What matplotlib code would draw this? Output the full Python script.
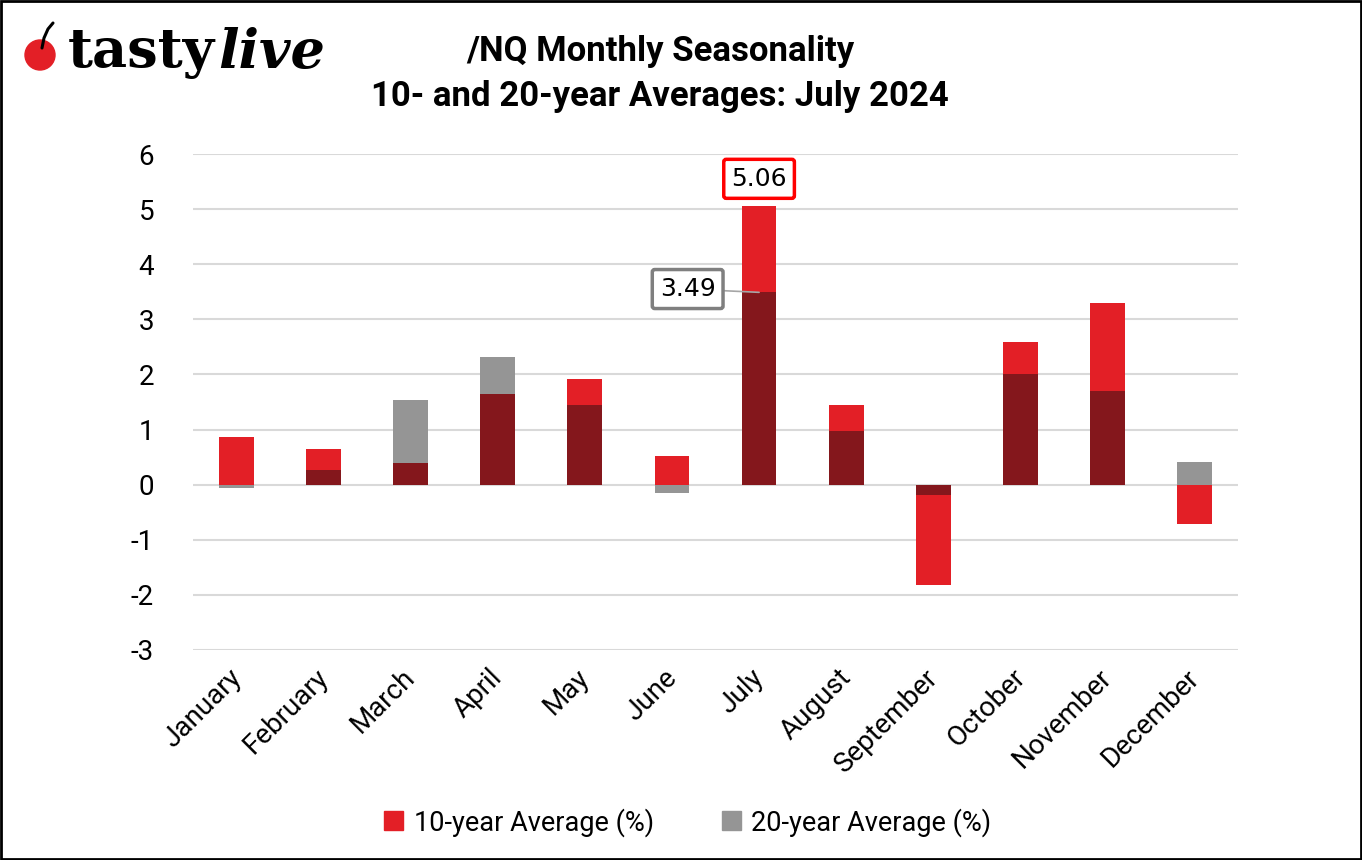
import numpy as np
import matplotlib.pyplot as plt
import matplotlib.transforms as mtrans
from matplotlib.patches import Patch, Circle, Rectangle

plt.rcParams['font.family'] = ['Roboto', 'DejaVu Sans']
plt.rcParams['axes.unicode_minus'] = False

months = ["January", "February", "March", "April", "May", "June", "July",
          "August", "September", "October", "November", "December"]
avg10 = [0.87, 0.64, 0.39, 1.65, 1.91, 0.52, 5.06, 1.44, -1.82, 2.58, 3.29, -0.71]
avg20 = [-0.06, 0.26, 1.54, 2.31, 1.44, -0.16, 3.49, 0.97, -0.19, 2.01, 1.70, 0.42]

RED = "#e31f26"
GRAY = "#959595"
DARK = "#84171c"

fig = plt.figure(figsize=(13.62, 8.6), dpi=100)
ax = fig.add_axes([0.1417, 0.2442, 0.7673, 0.5767])

x = np.arange(len(months))
w = 0.4
a10 = np.array(avg10)
a20 = np.array(avg20)
ax.bar(x, a10, w, color=RED, zorder=3)
ax.bar(x, a20, w, color=GRAY, zorder=3)
# where both series share a sign the overlap shows dark red
same = np.sign(a10) == np.sign(a20)
overlap = np.where(same, np.where(a10 > 0, np.minimum(a10, a20), np.maximum(a10, a20)), 0)
ax.bar(x, overlap, w, color=DARK, zorder=4)

ax.set_xlim(-0.5, len(months) - 0.5)
ax.set_ylim(-3, 6)
ax.set_yticks(range(-3, 7))
ax.grid(axis="y", color="#d9d9d9", linewidth=1.5, zorder=0)
for s in ax.spines.values():
    s.set_visible(False)
ax.tick_params(axis="both", length=0, labelsize=20, pad=10)
ax.tick_params(axis="y", pad=28)
ax.set_xticks(x)
ax.set_xticklabels(months, rotation=45, ha="right", va="top", rotation_mode="anchor", fontsize=20)
shift = mtrans.ScaledTranslation(-9 / 100, 0, fig.dpi_scale_trans)
for lab in ax.get_xticklabels():
    lab.set_transform(lab.get_transform() + shift)

# labels for July
j = months.index("July")
ax.annotate(f"{avg10[j]:.2f}", xy=(j, avg10[j]), xytext=(j, 5.55), ha="center", va="center",
            fontsize=18, family="DejaVu Sans", zorder=6,
            bbox=dict(boxstyle="round,pad=0.3,rounding_size=0.1", fc="white", ec="#ff0000", lw=2.5))
ax.annotate(f"{avg20[j]:.2f}", xy=(j, avg20[j]), xytext=(j - 0.82, 3.55), ha="center", va="center",
            fontsize=18, family="DejaVu Sans", zorder=6,
            arrowprops=dict(arrowstyle="-", color="#a6a6a6", lw=1.2, shrinkA=0, shrinkB=0),
            bbox=dict(boxstyle="round,pad=0.3,rounding_size=0.1", fc="white", ec="#7f7f7f", lw=2.5))

fig.text(0.4846, 0.940, "/NQ Monthly Seasonality", ha="center", va="center", fontsize=25, fontweight="bold")
fig.text(0.4846, 0.888, "10- and 20-year Averages: July 2024", ha="center", va="center", fontsize=25, fontweight="bold")

# logo: cherry in a small pixel-square axes, word mark as text
lax = fig.add_axes([22 / 1362, 1 - 75 / 860, 40 / 1362, 55 / 860])
lax.set_xlim(0, 40)
lax.set_ylim(0, 55)
lax.axis("off")
lax.add_patch(Circle((18, 20), 15, color=RED))
lax.plot([20, 22, 26, 31], [27, 37, 46, 52], color="black", lw=2.2, solid_capstyle="round")
t1 = fig.text(68 / 1362, 0.938, "tasty", ha="left", va="center", fontsize=39, fontweight="bold",
              family="DejaVu Serif")
fig.canvas.draw()
bb = t1.get_window_extent()
fig.text(bb.x1 / 1362 + 0.002, 0.938, "live", ha="left", va="center", fontsize=39, fontweight="bold",
         style="italic", family="DejaVu Serif")

handles = [Patch(color=RED, label="10-year Average (%)"), Patch(color=GRAY, label="20-year Average (%)")]
fig.legend(handles=handles, loc="center", bbox_to_anchor=(0.505, 0.044), ncol=2, frameon=False,
           fontsize=19.5, handlelength=0.7, handleheight=0.7, handletextpad=0.4, columnspacing=2.5)

fig.add_artist(Rectangle((0.001, 0.001), 0.998, 0.998, transform=fig.transFigure, fill=False,
                         ec="black", lw=2))

fig.savefig("out.png", dpi=100)
